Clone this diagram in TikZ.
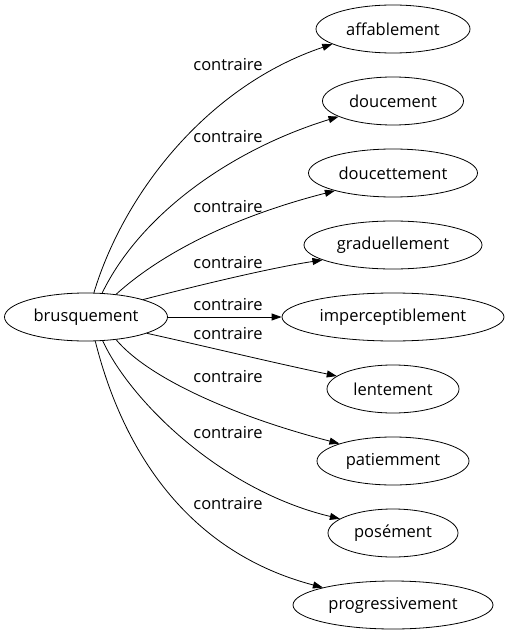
\documentclass[tikz,border=0pt]{standalone}
\usepackage{fontspec}
\setmainfont{Open Sans}
\usetikzlibrary{shapes.geometric,arrows.meta}
\begin{document}
\begin{tikzpicture}[x=1bp,y=-1bp,
  ell/.style={draw, ellipse, minimum height=48bp, inner sep=0pt, line width=0.8bp},
  lbl/.style={inner sep=0pt, text=black},
  edge/.style={draw, line width=0.8bp, -{Triangle[length=10bp,width=7bp]}},
  font=\fontsize{16.5bp}{19bp}\selectfont]
\useasboundingbox (0,0) rectangle (510,635);
\node[ell, minimum width=163bp] (b) at (86,317) {brusquement};
\node[ell, minimum width=154bp] (t1) at (393,29) {affablement};
\node[ell, minimum width=141bp] (t2) at (393,101) {doucement};
\node[ell, minimum width=169bp] (t3) at (393,173) {doucettement};
\node[ell, minimum width=178bp] (t4) at (393,245) {graduellement};
\node[ell, minimum width=222bp] (t5) at (393,317) {imperceptiblement};
\node[ell, minimum width=132bp] (t6) at (393,389) {lentement};
\node[ell, minimum width=152bp] (t7) at (393,461) {patiemment};
\node[ell, minimum width=130bp] (t8) at (393,533) {posément};
\node[ell, minimum width=200bp] (t9) at (393,605) {progressivement};

\draw[edge] (b.72) .. controls (125,190) and (210,85) .. (t1.194);
\draw[edge] (b.56) .. controls (140,215) and (230,150) .. (t2.196);
\draw[edge] (b.37) .. controls (165,250) and (240,215) .. (t3.197);
\draw[edge] (b.17) .. controls (200,285) and (270,268) .. (t4.192);
\draw[edge] (b.east) -- (t5.west);
\draw[edge] (b.-15) .. controls (200,345) and (270,362) .. (t6.167);
\draw[edge] (b.-37) .. controls (150,380) and (240,418) .. (t7.162);
\draw[edge] (b.-55) .. controls (130,400) and (220,490) .. (t8.165);
\draw[edge] (b.-69) .. controls (120,440) and (180,550) .. (t9.166);

\node[lbl] (l1) at (228,65) {contraire};
\node[lbl] (l2) at (228,137) {contraire};
\node[lbl] (l3) at (228,207) {contraire};
\node[lbl] (l4) at (228,263) {contraire};
\node[lbl] (l5) at (228,305) {contraire};
\node[lbl] (l6) at (228,334) {contraire};
\node[lbl] (l7) at (228,377) {contraire};
\node[lbl] (l8) at (228,433) {contraire};
\node[lbl] (l9) at (228,504) {contraire};
\end{tikzpicture}
\end{document}
